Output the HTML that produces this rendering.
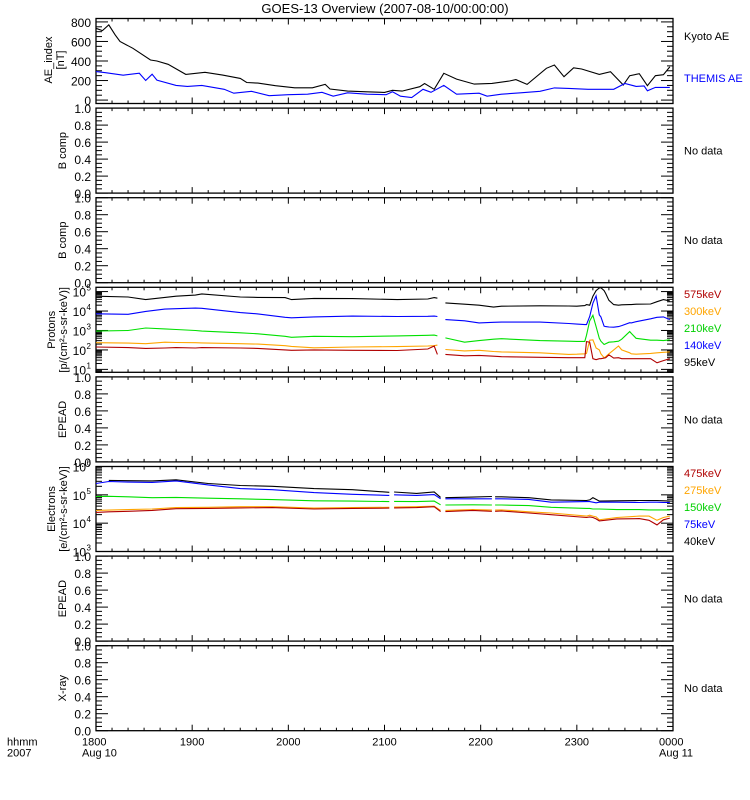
<!DOCTYPE html>
<html><head><meta charset="utf-8"><style>
html,body{margin:0;padding:0;background:#fff;}
svg{display:block;font-family:"Liberation Sans",sans-serif;}
</style></head><body>
<svg id="c" width="750" height="800" xmlns="http://www.w3.org/2000/svg">
<text x="385" y="13" font-size="13" text-anchor="middle">GOES-13 Overview (2007-08-10/00:00:00)</text>
</svg>
<script>
// ---- data (minutes since 18:00) ----
const aeKyotoT=[0,4,8,12,15,23,34,38,45,56,68,79,90,94,101,112,124,135,143,146,157,169,180,185,191,202,205,211,217,225,236,247,258,262,269,281,286,292,298,303,314,321,329,333,339,344,349,354,358];
const aeKyotoV=[735,711,770,667,600,530,410,400,366,263,284,256,222,180,174,147,126,126,160,113,92,85,79,100,92,137,170,110,274,215,164,171,195,210,161,325,359,239,330,318,263,290,154,250,270,147,250,260,340];
const aeThemisT=[0,6,17,27,31,35,38,50,57,66,80,86,97,108,120,132,141,148,157,169,181,185,190,197,204,209,217,225,239,244,253,265,277,286,295,307,323,330,337,342,344,349,358];
const aeThemisV=[291,280,255,275,200,265,205,150,140,150,110,70,90,45,55,60,80,40,75,60,55,85,40,25,110,80,150,60,70,40,60,75,90,125,120,110,110,170,140,145,95,130,130];
// protons, log10 flux
const pT=[0,20,31,43,50,62,66,90,101,118,122,136,160,188,207,211,213,null,218,230,239,248,253,277,295,300,305,306,308,310,312,314,315,317,318,320,323,326,328,333,334,337,346,350,354,358];
const p95=[4.76,4.72,4.59,4.70,4.76,4.82,4.88,4.72,4.70,4.69,4.59,4.65,4.64,4.59,4.62,4.69,4.66,null,4.42,4.35,4.30,4.20,4.25,4.27,4.26,4.25,4.28,4.33,4.30,4.76,5.05,5.19,5.20,5.05,4.90,4.55,4.33,4.30,4.32,4.33,4.33,4.35,4.36,4.48,4.59,4.52];
const p140=[3.86,3.83,3.98,4.10,4.12,4.15,4.14,3.92,3.85,3.68,3.65,3.70,3.74,3.72,3.73,3.74,3.72,null,3.56,3.50,3.39,3.42,3.43,3.43,3.36,3.33,3.30,3.30,3.72,4.40,4.78,3.80,3.70,3.22,3.20,3.18,3.17,3.20,3.25,3.40,3.39,3.45,3.60,3.68,3.70,3.56];
const p210=[2.97,3.0,3.13,3.08,3.05,3.0,2.97,2.88,2.83,2.70,2.65,2.70,2.68,2.72,2.75,2.76,2.72,null,2.62,2.40,2.48,2.55,2.58,2.48,2.45,2.44,2.44,2.75,3.50,3.78,3.20,2.60,2.45,2.28,2.32,2.40,2.42,2.45,2.55,2.94,2.85,2.60,2.50,2.50,2.48,2.52];
const p300=[2.37,2.35,2.32,2.40,2.38,2.37,2.36,2.32,2.30,2.22,2.18,2.11,2.15,2.17,2.20,2.22,2.25,null,2.02,1.95,1.98,1.92,1.90,1.85,1.77,1.78,1.80,1.82,2.50,2.52,2.10,2.00,1.80,1.60,1.65,1.80,2.00,2.20,2.00,1.85,1.80,1.78,1.82,1.85,1.88,1.90];
const p575=[2.15,2.12,2.08,2.10,2.12,2.10,2.12,2.10,2.08,2.00,1.98,2.00,1.98,1.97,2.05,2.20,1.77,null,1.77,1.70,1.72,1.68,1.65,1.62,1.60,1.60,1.60,2.43,2.40,1.55,1.50,1.55,1.55,1.58,1.60,1.75,1.58,1.60,1.55,1.55,1.55,1.55,1.55,1.34,1.45,1.55];
// electrons, log10 flux
const eT=[0,8,20,35,50,70,90,110,136,160,183,184,186,200,211,215,null,218,235,247,null,249,253,270,284,306,308,310,312,314,325,339,345,350,354,358];
const e40=[null,5.51,5.50,5.49,5.53,5.40,5.33,5.30,5.22,5.18,5.09,null,5.10,5.05,5.10,4.91,null,4.90,4.92,4.94,null,4.93,4.93,4.90,4.82,4.80,4.82,4.90,4.84,4.78,4.79,4.80,4.80,4.80,4.79,4.78];
const e75=[5.40,5.47,5.45,5.44,5.49,5.35,5.22,5.18,5.08,5.02,4.98,null,5.00,4.98,5.01,4.86,null,4.86,4.86,4.86,null,4.86,4.86,4.84,4.74,4.76,4.76,4.74,4.72,4.74,4.74,4.73,4.74,4.74,4.73,4.73];
const e150=[4.94,4.95,4.93,4.90,4.91,4.88,4.86,4.83,4.79,4.78,4.76,null,4.77,4.76,4.78,4.65,null,4.64,4.65,4.64,null,4.64,4.64,4.62,4.56,4.52,4.52,4.50,4.50,4.50,4.48,4.48,4.47,4.47,4.47,4.47];
const e275=[4.45,4.46,4.48,4.50,4.55,4.56,4.58,4.58,4.53,4.55,4.56,null,4.57,4.58,4.60,4.45,null,4.45,4.48,4.46,null,4.46,4.47,4.40,4.36,4.25,4.28,4.25,4.22,4.12,4.20,4.25,4.25,4.10,4.20,4.25];
const e475=[4.38,4.40,4.42,4.45,4.51,4.52,4.54,4.55,4.50,4.52,4.53,null,4.54,4.55,4.58,4.41,null,4.41,4.45,4.42,null,4.42,4.43,4.36,4.30,4.20,4.22,4.20,4.15,4.08,4.15,4.16,4.10,3.94,4.12,4.18];
const hourLabels=["1800","1900","2000","2100","2200","2300","0000"];
const linearTicks=["0.0","0.2","0.4","0.6","0.8","1.0"];
const aeTicks=[0,200,400,600,800];

const NS="http://www.w3.org/2000/svg";
const svg=document.getElementById('c');
const X0=96,X1=673,TOP=18.5,PH=85,PITCH=89.6;
function xs(t){return X0+(t/360)*(X1-X0);}
function mk(tag,attrs,parent){const e=document.createElementNS(NS,tag);for(const k in attrs)e.setAttribute(k,attrs[k]);(parent||svg).appendChild(e);return e;}
function txt(s,x,y,attrs){const e=mk('text',Object.assign({x:x,y:y,'font-size':12},attrs||{}));e.textContent=s;return e;}

function panel(i,name,ymin,ymax,log){
  const y0=TOP+i*PITCH,y1=y0+PH;
  const g=mk('g',{});
  
  
  const ys=v=>y1-(v-ymin)/(ymax-ymin)*PH;
  const r=mk('rect',{x:X0,y:y0,width:X1-X0,height:PH,fill:'none',stroke:'#000','stroke-width':1.3},g);
  
  
  for(let m=0;m<=360;m+=10){const x=xs(m),L=(m%60===0)?6:3;
    mk('line',{x1:x,y1:y1,x2:x,y2:y1-L,stroke:'#000'},g);mk('line',{x1:x,y1:y0,x2:x,y2:y0+L,stroke:'#000'},g);}
  const tick=(v,L)=>{const y=ys(v);if(y<y0-0.5||y>y1+0.5)return;mk('line',{x1:X0,y1:y,x2:X0+L,y2:y,stroke:'#000'},g);mk('line',{x1:X1,y1:y,x2:X1-L,y2:y,stroke:'#000'},g);};
  if(log){
    for(let d=Math.floor(ymin);d<=Math.ceil(ymax);d++){tick(d,12);for(let k=2;k<10;k++)tick(d+Math.log10(k),6);
      const y=ys(d);if(y>=y0-2&&y<=y1+2){const t=txt('10',86,y+5,{'text-anchor':'end','font-size':12},g);
        const s=txt(String(d),86.5,y-1,{'font-size':8},g);
        
        }}
  }
  return {g,ys,y0,y1};
}
function ylabel(lines,cx,cy,color){const t=mk('text',{transform:`translate(${cx},${cy}) rotate(-90)`,'text-anchor':'middle','font-size':11,fill:color||'#000'});
  lines.forEach((l,k)=>{const s=mk('tspan',{x:0,dy:k?12:0},t);s.textContent=l;});return t;}
function series(P,T,V,color,name){
  let d='',pen=false;
  for(let k=0;k<T.length;k++){if(T[k]===null||V[k]===null){pen=false;continue;}
    const x=xs(T[k]),y=Math.max(P.y0,Math.min(P.y1,P.ys(V[k])));d+=(pen?'L':'M')+x.toFixed(1)+' '+y.toFixed(1);pen=true;}
  const p=mk('path',{d:d,fill:'none',stroke:color,'stroke-width':1.1},P.g);
  
  
}
function linearTicksDraw(P,vals,labels,ymin,ymax,minorStep,majorStep,name){
  for(let v=ymin<0?0:ymin;v<=ymax+1e-9;v+=minorStep){const y=P.ys(v);if(y<P.y0)continue;
    const L=(Math.abs(v/majorStep-Math.round(v/majorStep))<1e-6)?12:6;
    mk('line',{x1:X0,y1:y,x2:X0+L,y2:y,stroke:'#000'},P.g);mk('line',{x1:X1,y1:y,x2:X1-L,y2:y,stroke:'#000'},P.g);}
  vals.forEach((v,k)=>{const t=txt(labels[k],91,P.ys(v)+5,{'text-anchor':'end'});
    });
}
function noData(P,name){const t=txt('No data',684,(P.y0+P.y1)/2+4,{'font-size':11});
  }

// Panel 0: AE
const A=panel(0,'ae-index',-35,835,false);
linearTicksDraw(A,aeTicks,aeTicks.map(String),-35,835,50,200,'ae');
series(A,aeKyotoT,aeKyotoV,'#000','kyoto-ae-line');
series(A,aeThemisT,aeThemisV,'#0000ff','themis-ae-line');
let l=ylabel(['AE_index','[nT]'],52,60);
let t=txt('Kyoto AE',684,40,{'font-size':11});
t=txt('THEMIS AE',684,82,{'font-size':11,fill:'#0000ff'});

const lin=[0,0.2,0.4,0.6,0.8,1.0];
function emptyPanel(i,name,title){const P=panel(i,name,0,1,false);
  linearTicksDraw(P,lin,linearTicks,0,1,0.05,0.2,name);
  const l=ylabel([title],66,(P.y0+P.y1)/2);
  noData(P,name);return P;}
emptyPanel(1,'b-comp-1','B comp');
emptyPanel(2,'b-comp-2','B comp');

// Panel 3: Protons
const PP=panel(3,'protons',0.85,5.22,true);
series(PP,pT,p95,'#000','proton-95kev-line');
series(PP,pT,p140,'#0000ff','proton-140kev-line');
series(PP,pT,p210,'#00e000','proton-210kev-line');
series(PP,pT,p300,'#ffa500','proton-300kev-line');
series(PP,pT,p575,'#b00000','proton-575kev-line');
l=ylabel(['Protons','[p/(cm\u00b2-s-sr-keV)]'],55,(PP.y0+PP.y1)/2);
[['575keV','#b00000'],['300keV','#ffa500'],['210keV','#00d000'],['140keV','#0000ff'],['95keV','#000']].forEach((a,k)=>{
  const e=txt(a[0],684,298+k*17,{'font-size':11,fill:a[1]});});

emptyPanel(4,'epead-1','EPEAD');

// Panel 5: Electrons
const EP=panel(5,'electrons',3,6,true);
series(EP,eT,e40,'#000','electron-40kev-line');
series(EP,eT,e75,'#0000ff','electron-75kev-line');
series(EP,eT,e150,'#00e000','electron-150kev-line');
series(EP,eT,e275,'#ffa500','electron-275kev-line');
series(EP,eT,e475,'#b00000','electron-475kev-line');
l=ylabel(['Electrons','[e/(cm\u00b2-s-sr-keV)]'],55,(EP.y0+EP.y1)/2);
[['475keV','#b00000'],['275keV','#ffa500'],['150keV','#00d000'],['75keV','#0000ff'],['40keV','#000']].forEach((a,k)=>{
  const e=txt(a[0],684,477+k*17,{'font-size':11,fill:a[1]});});

emptyPanel(6,'epead-2','EPEAD');
emptyPanel(7,'x-ray','X-ray');

// x labels
const yb=TOP+7*PITCH+PH;
hourLabels.forEach((s,k)=>{const x=xs(k*60);const e=txt(s,k===0?x-14:(k===6?x-14:x),yb+15,{'font-size':11,'text-anchor':(k===0||k===6)?'start':'middle'});
  });
t=txt('Aug 10',82,yb+26,{'font-size':11});
t=txt('Aug 11',659,yb+26,{'font-size':11});
t=txt('hhmm',7,yb+15,{'font-size':11});
t=txt('2007',7,yb+26,{'font-size':11});
</script>
</body></html>
